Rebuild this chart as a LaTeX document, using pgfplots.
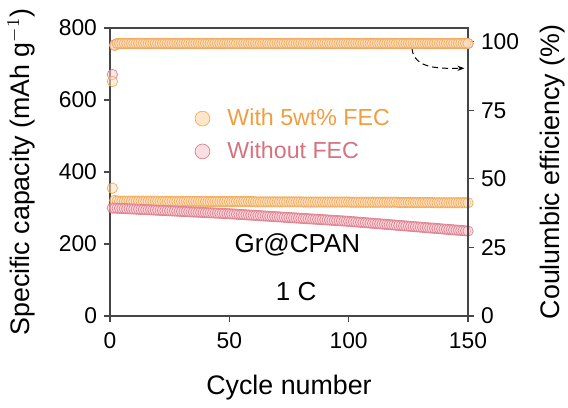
\documentclass[border=0pt]{standalone}
\usepackage{pgfplots}
\pgfplotsset{compat=1.18}
\usepackage{pgfplotstable}
\usepackage{fontspec}
\setmainfont{Liberation Sans}
\usetikzlibrary{arrows.meta}
\definecolor{orE}{RGB}{242,172,95}
\definecolor{orF}{RGB}{253,224,190}
\definecolor{orT}{RGB}{240,158,64}
\definecolor{piE}{RGB}{224,128,142}
\definecolor{piF}{RGB}{250,214,220}
\definecolor{piT}{RGB}{214,114,130}
\definecolor{axc}{RGB}{70,70,70}
\pgfplotstableread{
x capF capN ceF ceN
1 355 300.0 85.5 88.0
2 321 299.7 98.6 98.9
3 319.5 299.3 99.4 99.3
4 319 299.0 99.4 99.3
5 319 298.7 99.4 99.3
6 319 298.4 99.4 99.3
7 319 298.0 99.4 99.3
8 319 297.7 99.4 99.3
9 319 297.4 99.4 99.3
10 319 297.1 99.4 99.3
11 319 296.7 99.4 99.3
12 319 296.4 99.4 99.3
13 319 296.1 99.4 99.3
14 319 295.7 99.4 99.3
15 319 295.4 99.4 99.3
16 319 295.1 99.4 99.3
17 319 294.8 99.4 99.3
18 319 294.4 99.4 99.3
19 319 294.1 99.4 99.3
20 319 293.8 99.4 99.3
21 318.5 293.5 99.4 99.3
22 318.5 293.1 99.4 99.3
23 318.5 292.8 99.4 99.3
24 318.5 292.5 99.4 99.3
25 318.5 292.2 99.4 99.3
26 318.5 291.8 99.4 99.3
27 318.5 291.5 99.4 99.3
28 318.5 291.2 99.4 99.3
29 318.5 290.8 99.4 99.3
30 318.5 290.5 99.4 99.3
31 318.5 290.2 99.4 99.3
32 318.5 289.9 99.4 99.3
33 318.5 289.5 99.4 99.3
34 318.5 289.2 99.4 99.3
35 318.5 288.9 99.4 99.3
36 318.5 288.6 99.4 99.3
37 318.5 288.2 99.4 99.3
38 318.5 287.9 99.4 99.3
39 318.5 287.6 99.4 99.3
40 318.5 287.2 99.4 99.3
41 318 286.9 99.4 99.3
42 318 286.6 99.4 99.3
43 318 286.3 99.4 99.3
44 318 285.9 99.4 99.3
45 318 285.6 99.4 99.3
46 318 285.3 99.4 99.3
47 318 285.0 99.4 99.3
48 318 284.6 99.4 99.3
49 318 284.3 99.4 99.3
50 318 284.0 99.4 99.3
51 318 283.6 99.4 99.3
52 318 283.2 99.4 99.3
53 318 282.7 99.4 99.3
54 318 282.3 99.4 99.3
55 318 281.9 99.4 99.3
56 318 281.5 99.4 99.3
57 318 281.1 99.4 99.3
58 318 280.6 99.4 99.3
59 318 280.2 99.4 99.3
60 318 279.8 99.4 99.3
61 317 279.4 99.4 99.3
62 317 279.0 99.4 99.3
63 317 278.5 99.4 99.3
64 317 278.1 99.4 99.3
65 317 277.7 99.4 99.3
66 317 277.3 99.4 99.3
67 317 276.9 99.4 99.3
68 317 276.4 99.4 99.3
69 317 276.0 99.4 99.3
70 317 275.6 99.4 99.3
71 317 275.2 99.4 99.3
72 317 274.8 99.4 99.3
73 317 274.3 99.4 99.3
74 317 273.9 99.4 99.3
75 317 273.5 99.4 99.3
76 317 273.1 99.4 99.3
77 317 272.7 99.4 99.3
78 317 272.2 99.4 99.3
79 317 271.8 99.4 99.3
80 317 271.4 99.4 99.3
81 316.5 271.0 99.4 99.3
82 316.5 270.6 99.4 99.3
83 316.5 270.1 99.4 99.3
84 316.5 269.7 99.4 99.3
85 316.5 269.3 99.4 99.3
86 316.5 268.9 99.4 99.3
87 316.5 268.5 99.4 99.3
88 316.5 268.0 99.4 99.3
89 316.5 267.6 99.4 99.3
90 316.5 267.2 99.4 99.3
91 316.5 266.8 99.4 99.3
92 316.5 266.4 99.4 99.3
93 316.5 265.9 99.4 99.3
94 316.5 265.5 99.4 99.3
95 316.5 265.1 99.4 99.3
96 316.5 264.7 99.4 99.3
97 316.5 264.3 99.4 99.3
98 316.5 263.8 99.4 99.3
99 316.5 263.4 99.4 99.3
100 316.5 263.0 99.4 99.3
101 316 262.5 99.4 99.3
102 316 261.9 99.4 99.3
103 316 261.4 99.4 99.3
104 316 260.8 99.4 99.3
105 316 260.3 99.4 99.3
106 316 259.8 99.4 99.3
107 316 259.2 99.4 99.3
108 316 258.7 99.4 99.3
109 316 258.1 99.4 99.3
110 316 257.6 99.4 99.3
111 316 257.1 99.4 99.3
112 316 256.5 99.4 99.3
113 316 256.0 99.4 99.3
114 316 255.4 99.4 99.3
115 316 254.9 99.4 99.3
116 316 254.4 99.4 99.3
117 316 253.8 99.4 99.3
118 316 253.3 99.4 99.3
119 316 252.7 99.4 99.3
120 316 252.2 99.4 99.3
121 315 251.7 99.4 99.3
122 315 251.1 99.4 99.3
123 315 250.6 99.4 99.3
124 315 250.0 99.4 99.3
125 315 249.5 99.4 99.3
126 315 249.0 99.4 99.3
127 315 248.4 99.4 99.3
128 315 247.9 99.4 99.3
129 315 247.3 99.4 99.3
130 315 246.8 99.4 99.3
131 315 246.3 99.4 99.3
132 315 245.7 99.4 99.3
133 315 245.2 99.4 99.3
134 315 244.6 99.4 99.3
135 315 244.1 99.4 99.3
136 314.5 243.6 99.4 99.3
137 314.5 243.0 99.4 99.3
138 314.5 242.5 99.4 99.3
139 314.5 241.9 99.4 99.3
140 314.5 241.4 99.4 99.3
141 314.5 240.9 99.4 99.3
142 314.5 240.3 99.4 99.3
143 314.5 239.8 99.4 99.3
144 314.5 239.2 99.4 99.3
145 314.5 238.7 99.4 99.3
146 314.5 238.2 99.4 99.3
147 314.5 237.6 99.4 99.3
148 314.5 237.1 99.4 99.3
149 314.5 236.5 99.4 99.3
150 314.5 236.0 99.4 99.3
}\data
\pgfplotsset{
  common/.style={
    scale only axis, width=179pt, height=144pt,
    xmin=0, xmax=150,
    tick align=outside,
    major tick length=3pt,
    axis line style={axc, line width=0.6pt},
    every tick/.style={axc, line width=0.6pt},
    tick label style={font=\fontsize{11.4}{13}\selectfont},
    /pgf/number format/assume math mode=true,
    label style={font=\fontsize{13.4}{15}\selectfont},
  },
  mF/.style={only marks, mark=*, mark size=2.6pt, draw=orE, fill=orF, line width=0.35pt, mark options={fill opacity=0.55}},
  mN/.style={only marks, mark=*, mark size=2.6pt, draw=piE, fill=piF, line width=0.35pt, mark options={fill opacity=0.55}},
}
\begin{document}
\begin{tikzpicture}
\begin{axis}[common, name=ax,
  ymin=0, ymax=800,
  xtick={0,50,100,150}, ytick={0,200,400,600,800},
  xtick pos=bottom, ytick pos=left,
  xticklabel style={yshift=-2pt},
  xlabel={Cycle number},
  ylabel={Specific capacity (mAh g$^{-1}$)},
  ylabel style={yshift=5pt},
  xlabel style={yshift=-6pt},
  legend style={at={(0.236,0.735)}, anchor=north west, draw=none, fill=none,
    font=\fontsize{11.6}{14}\selectfont, row sep=2.5pt, inner sep=0pt},
  legend cell align=left,
  legend image code/.code={\draw[#1, mark size=3.7pt, mark options={fill opacity=0.8}] plot coordinates {(0cm,0cm)};\path[draw=none] (-3.8pt,0pt) -- (10.5pt,0pt);},
]
\addplot[mF] table[x=x, y=capF] {\data};
\addlegendentry{\textcolor{orT}{With 5wt\% FEC}}
\addplot[mN] table[x=x, y=capN] {\data};
\addlegendentry{\textcolor{piT}{Without FEC}}
\node[font=\fontsize{13}{15}\selectfont] at (axis cs:78.5,197) {Gr@CPAN};
\node[font=\fontsize{13}{15}\selectfont] at (axis cs:78,67) {1 C};
\draw[black, densely dashed, line width=0.5pt, -{Stealth[length=3.5pt]}] (axis cs:126.5,744) to[out=-85, in=180] (axis cs:148.5,688);
\end{axis}
\begin{axis}[common,
  ymin=0, ymax=105,
  axis x line=none,
  axis y line*=right,
  ytick={0,25,50,75,100},
  ylabel={Coulumbic efficiency (\%)},
  ylabel style={yshift=-3.5pt},
]
\addplot[mN] table[x=x, y=ceN] {\data};
\addplot[mF] table[x=x, y=ceF] {\data};
\end{axis}
\pgfresetboundingbox
\path (ax.south west) ++(-55pt,-46pt) coordinate (bl);
\path (ax.north east) ++(50pt,14pt) coordinate (tr);
\path[use as bounding box] (bl) rectangle (tr);
\end{tikzpicture}
\end{document}
